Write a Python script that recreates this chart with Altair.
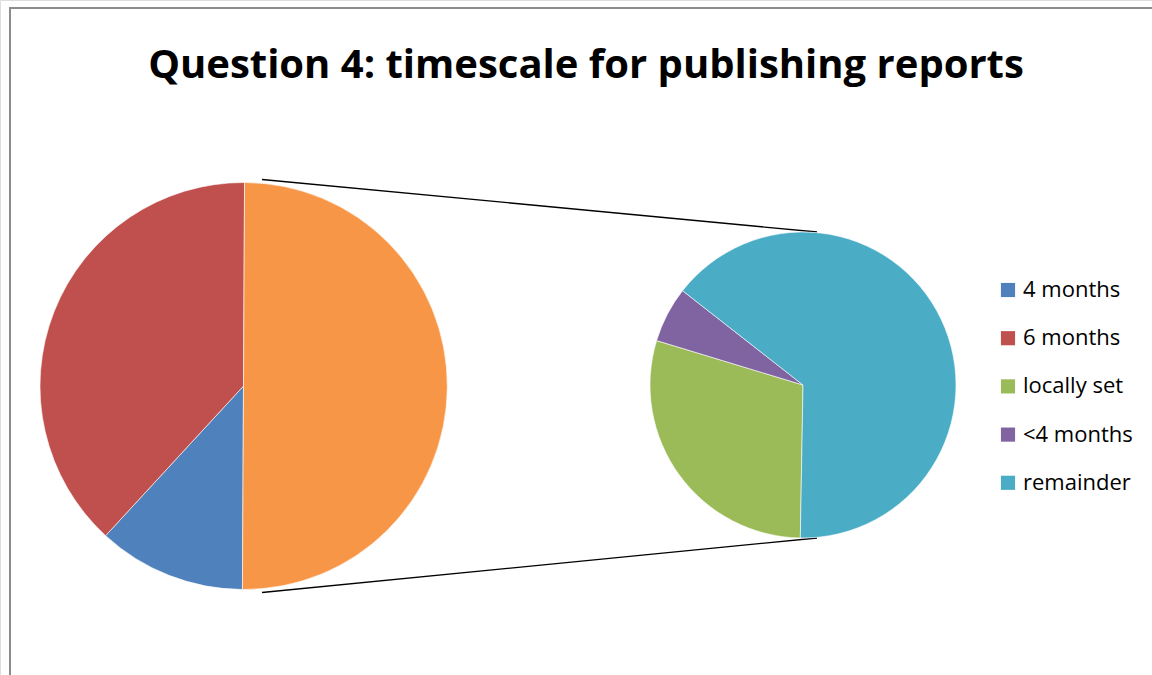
import math
import altair as alt
import pandas as pd

# ---- data ----
title_text = "Question 4: timescale for publishing reports"
main_labels = ["4 months", "6 months", "other"]
main_values = [4, 13, 17]
second_labels = ["locally set", "<4 months", "remainder"]
second_values = [5, 1, 11]
legend_labels = ["4 months", "6 months", "locally set", "<4 months", "remainder"]
all_labels = ["4 months", "6 months", "locally set", "<4 months", "remainder", "other"]
all_colors = ["#4F81BD", "#C0504D", "#9BBB59", "#8064A2", "#4BACC6", "#F79646"]

# ---- layout ----
W, H = 1152, 675
c1x, c1y, r1 = 243.5, 386, 203.5
c2x, c2y, r2 = 803, 385, 153
start1 = math.radians(180.3)
start2 = math.radians(181)
FONT = "Open Sans"

main_df = pd.DataFrame({"label": main_labels, "value": main_values,
                        "idx": list(range(len(main_labels)))})
second_df = pd.DataFrame({"label": second_labels, "value": second_values,
                          "idx": list(range(len(second_labels)))})

color_scale = alt.Scale(domain=all_labels, range=all_colors)

main_pie = alt.Chart(main_df).mark_arc(radius=r1, stroke="#ffffff", strokeWidth=0.6).encode(
    theta=alt.Theta("value:Q", stack=True, scale=alt.Scale(range=[start1, start1 + 2 * math.pi])),
    order=alt.Order("idx:Q"),
    color=alt.Color("label:N", scale=color_scale,
                    legend=alt.Legend(values=legend_labels, title=None, orient="none",
                                      legendX=997, legendY=279,
                                      symbolType="square", symbolSize=200,
                                      symbolStrokeWidth=0, symbolOpacity=1,
                                      labelFont=FONT, labelFontSize=22, labelColor="#000000",
                                      labelOffset=4, rowPadding=26.2, labelLimit=300)),
    x=alt.value(c1x), y=alt.value(c1y),
)

second_pie = alt.Chart(second_df).mark_arc(radius=r2, stroke="#ffffff", strokeWidth=0.6).encode(
    theta=alt.Theta("value:Q", stack=True, scale=alt.Scale(range=[start2, start2 + 2 * math.pi])),
    order=alt.Order("idx:Q"),
    color=alt.Color("label:N", scale=color_scale),
    x=alt.value(c2x), y=alt.value(c2y),
)

# connector lines derived from the two pies' geometry
links_df = pd.DataFrame({
    "x": [c1x + 18.5, c1x + 18.5],
    "y": [c1y - r1 - 3, c1y + r1 + 3],
    "x2": [c2x + 14, c2x + 14],
    "y2": [c2y - r2, c2y + r2],
})
links = alt.Chart(links_df).mark_rule(color="#000000", strokeWidth=1.3).encode(
    x=alt.X("x:Q", scale=None), y=alt.Y("y:Q", scale=None),
    x2="x2:Q", y2="y2:Q",
)

frame = alt.Chart(pd.DataFrame({"a": [0]})).mark_rect(
    fill=None, stroke="#8c8c8c", strokeWidth=2).encode(
    x=alt.value(10), x2=alt.value(W + 20), y=alt.value(8), y2=alt.value(H + 20))

title = alt.Chart(pd.DataFrame({"t": [title_text]})).mark_text(
    font=FONT, fontSize=40, fontWeight="bold", color="#000000",
    align="center", baseline="alphabetic").encode(
    text="t:N", x=alt.value(586), y=alt.value(78))

chart = alt.layer(frame, links, main_pie, second_pie, title).resolve_scale(
    theta="independent"
).properties(
    width=W, height=H, padding=0, autosize=alt.AutoSizeParams(type="none")
).configure_view(stroke=None).configure(background="#ffffff")

chart.save("out.html", embed_options={"renderer": "svg", "actions": False})
